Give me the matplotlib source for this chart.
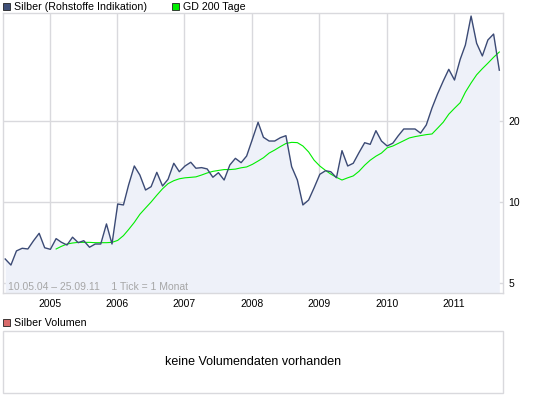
import numpy as np
import pandas as pd
import matplotlib
matplotlib.use("Agg")
import matplotlib.pyplot as plt
import matplotlib.dates as mdates
from matplotlib.patches import Rectangle
from matplotlib.ticker import FixedLocator, NullLocator, FixedFormatter

plt.rcParams['font.family'] = ['Liberation Sans', 'DejaVu Sans']

# monthly silver price (USD), May 2004 - Sep 2011
silver = [6.14, 5.83, 6.58, 6.73, 6.69, 7.17, 7.65, 6.76, 6.67, 7.31,
          7.09, 6.92, 7.40, 7.06, 7.18, 6.79, 6.98, 6.98, 8.29, 6.98,
          9.83, 9.75, 11.57, 13.61, 12.60, 11.08, 11.40, 12.89, 11.47, 12.15,
          13.93, 12.96, 13.61, 14.05, 13.35, 13.42, 13.27, 12.36, 12.85, 12.07,
          13.73, 14.53, 14.00, 14.82, 17.10, 19.78, 17.40, 16.85, 16.85, 17.34,
          17.64, 13.53, 12.07, 9.75, 10.17, 11.30, 12.68, 13.07, 12.96, 12.31,
          15.52, 13.61, 13.93, 15.25, 16.61, 16.38, 18.41, 16.85, 16.15, 16.55,
          17.59, 18.68, 18.68, 18.68, 18.03, 19.33, 22.35, 25.20, 28.16, 31.13,
          28.40, 33.91, 38.32, 49.10, 38.90, 34.90, 40.00, 42.10, 30.90]

# 200-day moving average, starts later
gd200 = [np.nan] * 9 + [
    6.69, 6.84, 6.98, 7.04, 7.08, 7.08, 7.08, 7.06, 7.06, 7.06,
    7.08, 7.20, 7.50, 7.90, 8.40, 9.00, 9.50, 10.00, 10.60, 11.20,
    11.70, 12.00, 12.20, 12.30, 12.35, 12.40, 12.60, 12.82, 13.00, 13.10,
    13.20, 13.20, 13.25, 13.40, 13.50, 13.80, 14.20, 14.60, 15.20, 15.60,
    16.07, 16.50, 16.66, 16.62, 16.15, 15.35, 14.30, 13.60, 13.10, 12.70,
    12.35, 12.07, 12.30, 12.50, 13.00, 13.70, 14.30, 14.80, 15.20, 15.90,
    16.15, 16.50, 16.90, 17.30, 17.50, 17.65, 17.80, 17.90, 18.80, 19.80,
    21.20, 22.30, 23.40, 25.60, 27.70, 29.70, 31.30, 32.80, 34.50, 36.10]

dates = pd.date_range('2004-05-01', periods=len(silver), freq='MS') + pd.Timedelta(days=3)
y_ticks = [5, 10, 20]
y_labels = ['5', '10', '20']

W, H = 545, 398
fig = plt.figure(figsize=(W / 100, H / 100), dpi=100)

def fx(px):
    return px / W

def fy(py):
    return 1 - py / H

grid_c = '#d9d9dd'
ax = fig.add_axes([fx(3), fy(293), fx(500), 280 / H])
ymin, ymax = 4.59, 50.4
ax.set_yscale('log')
ax.set_ylim(ymin, ymax)
ax.set_xlim(pd.Timestamp('2004-04-22'), pd.Timestamp('2011-09-24'))

ax.fill_between(dates, silver, ymin, color='#eef1f9', lw=0, zorder=1)
ax.plot(dates, gd200, color='#00ee00', lw=0.8, zorder=3)
ax.plot(dates, silver, color='#3b4a75', lw=1.0, zorder=4)

ax.yaxis.set_major_locator(FixedLocator(y_ticks))
ax.yaxis.set_major_formatter(FixedFormatter(y_labels))
ax.yaxis.set_minor_locator(NullLocator())
ax.yaxis.tick_right()
ax.xaxis.set_major_locator(mdates.YearLocator())
ax.xaxis.set_major_formatter(mdates.DateFormatter('%Y'))
ax.tick_params(axis='both', length=0, labelsize=7.5, colors='black')
ax.tick_params(axis='y', pad=4)
ax.tick_params(axis='x', pad=4)
ax.grid(True, color=grid_c, lw=1.0, zorder=0)
ax.set_axisbelow(True)
for s in ax.spines.values():
    s.set_color(grid_c)
    s.set_linewidth(1.0)

ax.text(0.01, 0.021, '10.05.04 \u2013 25.09.11    1 Tick = 1 Monat',
        transform=ax.transAxes, fontsize=7.5, color='#a6a6a6', va='center', ha='left')

# legends
def legend_box(x, y, color, label):
    fig.patches.append(Rectangle((fx(x), fy(y + 7)), fx(7), 7 / H, transform=fig.transFigure,
                                 facecolor=color, edgecolor='#222222', lw=0.6))
    fig.text(fx(x + 11), fy(y + 3.5), label, fontsize=7.7, va='center', ha='left')

legend_box(3, 3, '#3f5078', 'Silber (Rohstoffe Indikation)')
legend_box(172, 3, '#00ee00', 'GD 200 Tage')
legend_box(3, 319, '#d96b6b', 'Silber Volumen')

# volume panel (empty)
fig.patches.append(Rectangle((fx(3), fy(393)), fx(500), 62 / H, transform=fig.transFigure,
                             facecolor='white', edgecolor=grid_c, lw=1.0))
fig.text(fx(253), fy(362), 'keine Volumendaten vorhanden', fontsize=9, va='center', ha='center')

fig.savefig('out.png', dpi=100)
